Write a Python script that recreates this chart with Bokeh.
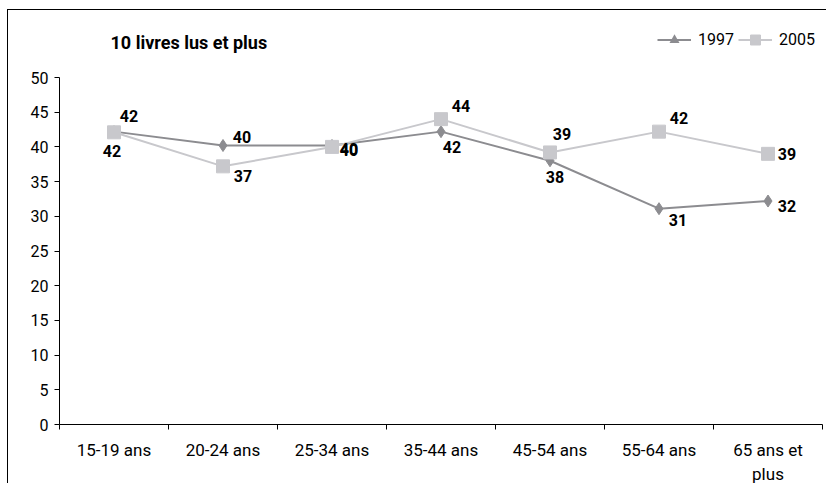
from bokeh.plotting import figure
from bokeh.models import (ColumnDataSource, Range1d, FixedTicker, Legend, LegendItem, Label)
from bokeh.core.properties import value
from bokeh.embed import file_html
from bokeh.resources import INLINE

categories = ["15-19 ans", "20-24 ans", "25-34 ans", "35-44 ans", "45-54 ans", "55-64 ans", "65 ans et\nplus"]
v1997 = [42.2, 40.2, 40.2, 42.2, 38.0, 31.1, 32.2]
v2005 = [42.1, 37.2, 40.0, 44.0, 39.2, 42.2, 39.0]
lab1997 = ["42", "40", "40", "42", "38", "31", "32"]
lab2005 = ["42", "37", "40", "44", "39", "42", "39"]
y_ticks = [0, 5, 10, 15, 20, 25, 30, 35, 40, 45, 50]
y_max = 50
title_text = "10 livres lus et plus"

# label offsets (screen px) – styling only
off1997_x = [-2, 19, 17, 11, 5, 19, 19]
off1997_y = [19, -9, 3, 15, 16, 11, 5]
off2005_x = [15, 20, 17, 20, 12, 20, 19]
off2005_y = [-16, 10, 3, -13, -18, -14, 0]

FONT = "Roboto"
C97 = "#8c8c90"
C05 = "#c8c8cc"

FRAME_W = 763
FRAME_H = 402
AXIS_PX = 347  # pixel height of the 0..50 axis

xs = [i + 0.5 for i in range(len(categories))]
src97 = ColumnDataSource(dict(x=xs, y=v1997, t=lab1997, dx=off1997_x, dy=off1997_y))
src05 = ColumnDataSource(dict(x=xs, y=v2005, t=lab2005, dx=off2005_x, dy=off2005_y))

p = figure(frame_width=FRAME_W, frame_height=FRAME_H, output_backend="svg", toolbar_location=None,
           x_range=Range1d(0, len(categories)), y_range=Range1d(0, y_max * FRAME_H / AXIS_PX),
           min_border_left=51, min_border_right=4, min_border_top=12, min_border_bottom=59)
p.styles = {"border-top": "1px solid #000", "border-left": "1px solid #000",
            "margin-left": "7px", "margin-top": "9px"}
p.outline_line_color = None
p.grid.visible = False
p.background_fill_color = "white"
p.border_fill_color = "white"

# y axis
ya = p.yaxis[0]
ya.bounds = (0, y_max)
ya.ticker = FixedTicker(ticks=y_ticks)
ya.axis_line_color = "black"
ya.major_tick_out = 5
ya.major_tick_in = 0
ya.minor_tick_out = 0
ya.minor_tick_in = 0
ya.major_label_text_font = FONT
ya.major_label_text_font_size = "16px"
ya.major_label_text_color = "black"
ya.major_label_standoff = 6

# x axis
xa = p.xaxis[0]
xa.ticker = FixedTicker(ticks=xs, minor_ticks=list(range(len(categories) + 1)))
xa.major_label_overrides = {x: c for x, c in zip(xs, categories)}
xa.axis_line_color = "black"
xa.major_tick_out = 0
xa.major_tick_in = 0
xa.minor_tick_out = 5
xa.minor_tick_in = 0
xa.minor_tick_line_color = "black"
xa.major_label_text_font = FONT
xa.major_label_text_font_size = "17px"
xa.major_label_text_color = "black"
xa.major_label_standoff = 10

# series
l97 = p.line("x", "y", source=src97, line_color=C97, line_width=2)
s97 = p.scatter("x", "y", source=src97, marker="diamond", size=12, fill_color=C97, line_color=C97)
t97 = p.scatter("x", "y", source=src97, marker="triangle", size=0, fill_color=C97, line_color=None)
l05 = p.line("x", "y", source=src05, line_color=C05, line_width=2)
s05 = p.scatter("x", "y", source=src05, marker="square", size=13, fill_color=C05, line_color=C05)

for src in (src97, src05):
    p.text("x", "y", text="t", source=src, x_offset="dx", y_offset="dy",
           text_font=value(FONT), text_font_size="16px", text_font_style="bold",
           text_color="black", text_align="center", text_baseline="middle")

# title
p.add_layout(Label(x=51, y=382, x_units="screen", y_units="screen", text=title_text,
                   text_font=FONT, text_font_size="18px", text_font_style="bold",
                   text_color="black", text_baseline="middle", text_align="left"))

legend = Legend(items=[LegendItem(label="1997", renderers=[l97, t97]),
                       LegendItem(label="2005", renderers=[l05, s05])],
                orientation="horizontal", location=(598, 372))
legend.label_text_font = FONT
legend.label_text_font_size = "16px"
legend.label_text_color = "black"
legend.glyph_width = 34
legend.glyph_height = 25
legend.label_height = 25
legend.label_standoff = 7
legend.spacing = 4
legend.padding = 0
legend.margin = 0
legend.border_line_color = None
legend.background_fill_alpha = 0
p.add_layout(legend)

open("out.html", "w").write(file_html(p, INLINE))
